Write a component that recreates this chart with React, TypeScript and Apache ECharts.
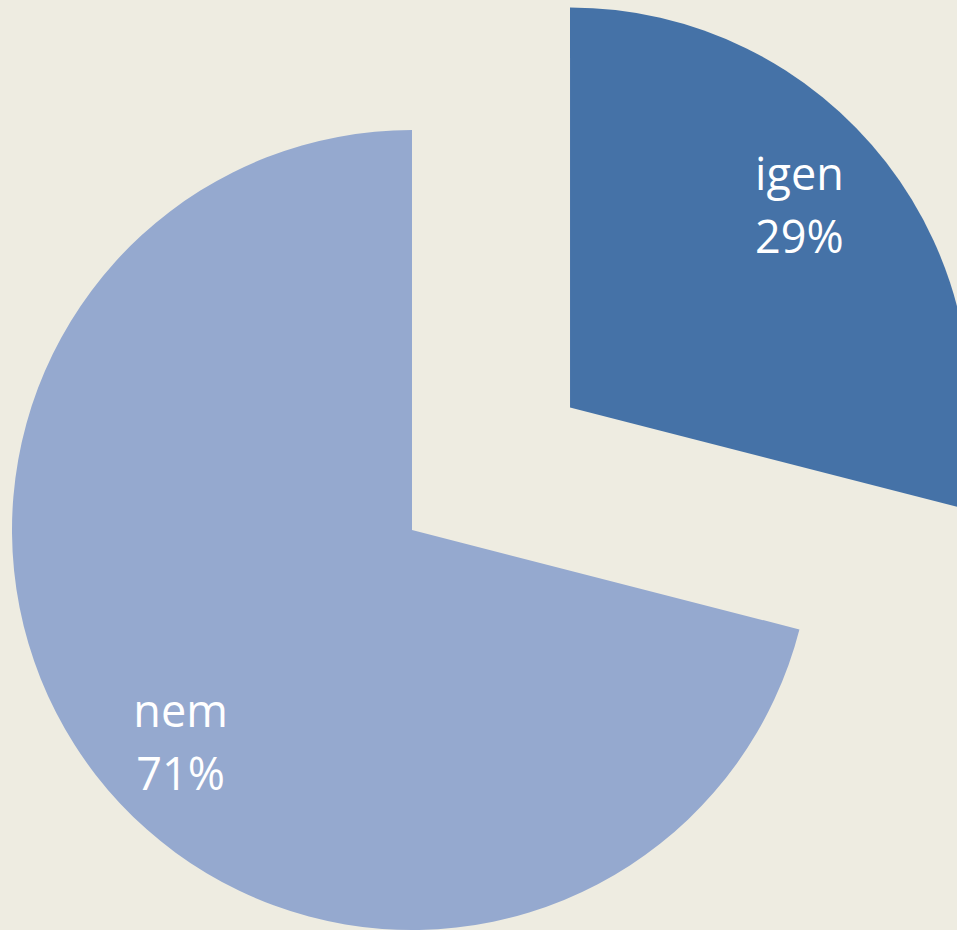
import React, { useEffect, useRef } from "react";
import * as echarts from "echarts";

const categories = ["igen", "nem"];
const values = [29, 71];
const colors = ["#4572A7", "#95A9CF"];
const labelOffsets: [number, number][] = [[69, -79], [-71, 87]];

export default function App() {
  const ref = useRef<HTMLDivElement>(null);
  useEffect(() => {
    if (!ref.current) return;
    const chart = echarts.init(ref.current, undefined, { renderer: "svg" });
    const total = values.reduce((a, b) => a + b, 0);
    const cx = 412;
    const cy = 530;
    const r = 400;
    const explode = 200;
    // mid-angle of the exploded slice (first), clockwise from 12 o'clock
    const mid = (values[0] / total) * Math.PI; // half of its sweep
    const ex = cx + explode * Math.sin(mid);
    const ey = cy - explode * Math.cos(mid);

    const mkData = (showIdx: number) =>
      categories.map((name, i) => ({
        name,
        value: values[i],
        itemStyle: {
          color: i === showIdx ? colors[i] : "rgba(0,0,0,0)",
        },
        label: {
          show: i === showIdx,
          offset: labelOffsets[i],
        },
      }));

    const common = {
      type: "pie" as const,
      radius: [0, r],
      startAngle: 90,
      clockwise: true,
      silent: true,
      labelLine: { show: false },
      label: {
        position: "inside" as const,
        formatter: (p: any) => `${p.name}\n${Math.round(p.percent)}%`,
        color: "#ffffff",
        fontFamily: "Open Sans",
        fontSize: 45,
        lineHeight: 63,
        align: "center" as const,
      },
      itemStyle: { borderWidth: 0 },
      emphasis: { disabled: true },
    };

    chart.setOption({
      animation: false,
      backgroundColor: "#EEECE1",
      series: [
        { ...common, center: [cx, cy], data: mkData(1) },
        { ...common, center: [ex, ey], data: mkData(0) },
      ],
    });
    return () => chart.dispose();
  }, []);
  return (
    <div
      ref={ref}
      style={{ position: "fixed", left: 0, top: 0, width: 957, height: 930 }}
    />
  );
}
